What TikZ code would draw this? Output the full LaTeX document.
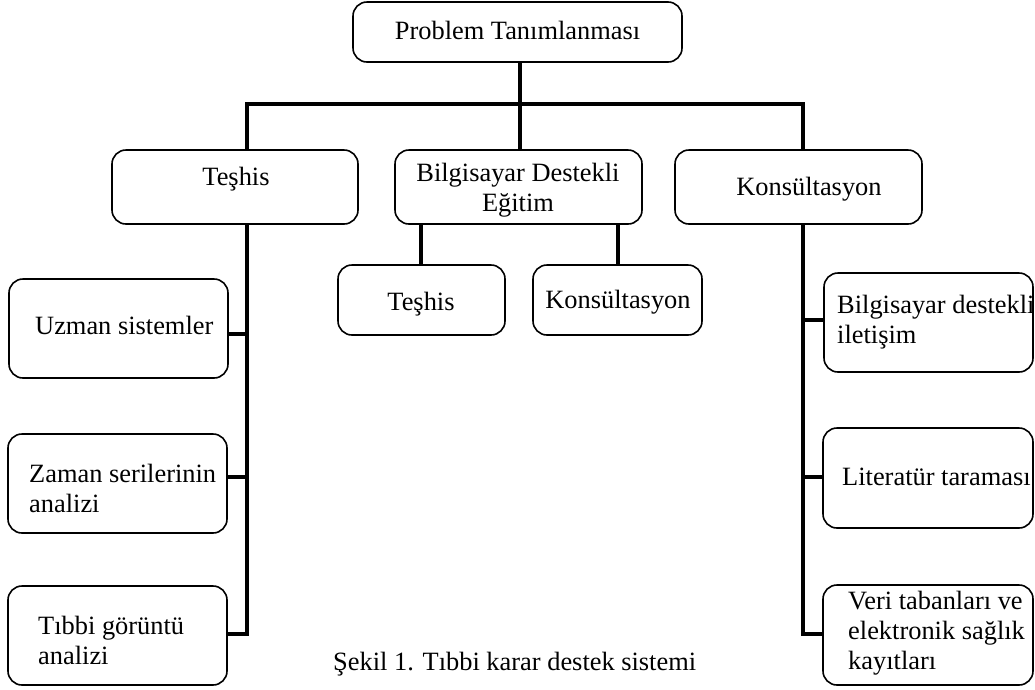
\documentclass[tikz,border=0pt]{standalone}
\usepackage{fontspec}
\setmainfont{Liberation Serif}
\begin{document}
\begin{tikzpicture}[x=1pt,y=-1pt,
  box/.style={draw,line width=1.6pt,rounded corners=14pt,inner sep=0pt},
  conn/.style={line width=3.6pt,line cap=rect},
  txt/.style={inner sep=0pt,anchor=base west,font=\fontsize{26.4}{30}\selectfont},
  ctxt/.style={inner sep=0pt,anchor=base,align=center,font=\fontsize{26.4}{30}\selectfont}]
\useasboundingbox (0,0) rectangle (1035,689);
% boxes
\newcommand{\bx}[5]{\node[box,minimum width={#4-#2},minimum height={#5-#3}] (#1) at ({(#2+#4)/2},{(#3+#5)/2}) {};}
\bx{top}{353}{2}{682}{62}
\bx{teshis}{112}{150}{358}{224}
\bx{bde}{395}{150}{642}{224}
\bx{kons}{675}{150}{922}{224}
\bx{cteshis}{338}{265}{505}{335}
\bx{ckons}{533}{265}{702}{335}
\bx{uzman}{9}{279}{228}{378}
\bx{zaman}{8}{434}{227}{533}
\bx{tibbi}{8}{586}{227}{685}
\bx{bdi}{824}{273}{1033}{372}
\bx{lit}{823}{428}{1033}{528}
\bx{veri}{823}{585}{1033}{685}
% texts (base = baseline of the last line)
\node[ctxt] (ttop) at (517.5,39) {Problem Tanımlanması};
\node[ctxt] (tteshis) at (236,185) {Teşhis};
\node[ctxt] (tbde) at (518,211) {Bilgisayar Destekli\\Eğitim};
\node[ctxt] (tkons) at (809,195) {Konsültasyon};
\node[ctxt] (tcteshis) at (421,310) {Teşhis};
\node[ctxt] (tckons) at (618,308) {Konsültasyon};
\node[txt] (tuzman) at (35,334) {Uzman sistemler};
\node[txt,align=left] (tzaman) at (29,512) {Zaman serilerinin\\analizi};
\node[txt,align=left] (ttibbi) at (38,664) {Tıbbi görüntü\\analizi};
\node[txt,align=left] (tbdi) at (837,343) {Bilgisayar destekli\\iletişim};
\node[txt] (tlit) at (842,485) {Literatür taraması};
\node[txt,align=left] (tveri) at (848,669) {Veri tabanları ve\\elektronik sağlık\\kayıtları};
\node[txt] (cap) at (333,670) {Şekil 1. Tıbbi karar destek sistemi};
% connector coordinates
\coordinate (barL) at (247,104);
\coordinate (barR) at (803,104);
\coordinate (barM) at (520,104);
\coordinate (yu) at (0,334);
\coordinate (yz) at (0,477);
\coordinate (yt) at (0,634);
\coordinate (yb) at (0,320);
\coordinate (yl) at (0,477);
\coordinate (yv) at (0,634);
\coordinate (xl) at (421,0);
\coordinate (xr) at (618,0);
% connectors
\draw[conn] (top.south -| barM) -- (barM);
\draw[conn] (teshis.north -| barL) -- (barL) -- (barR) -- (kons.north -| barR);
\draw[conn] (barM) -- (bde.north -| barM);
\draw[conn] (bde.south -| xl) -- (cteshis.north -| xl);
\draw[conn] (bde.south -| xr) -- (ckons.north -| xr);
\draw[conn] (teshis.south -| barL) -- (barL |- yt) -- (tibbi.east |- yt);
\draw[conn] (barL |- yu) -- (uzman.east |- yu);
\draw[conn] (barL |- yz) -- (zaman.east |- yz);
\draw[conn] (kons.south -| barR) -- (barR |- yv) -- (veri.west |- yv);
\draw[conn] (barR |- yb) -- (bdi.west |- yb);
\draw[conn] (barR |- yl) -- (lit.west |- yl);
\end{tikzpicture}
\end{document}
